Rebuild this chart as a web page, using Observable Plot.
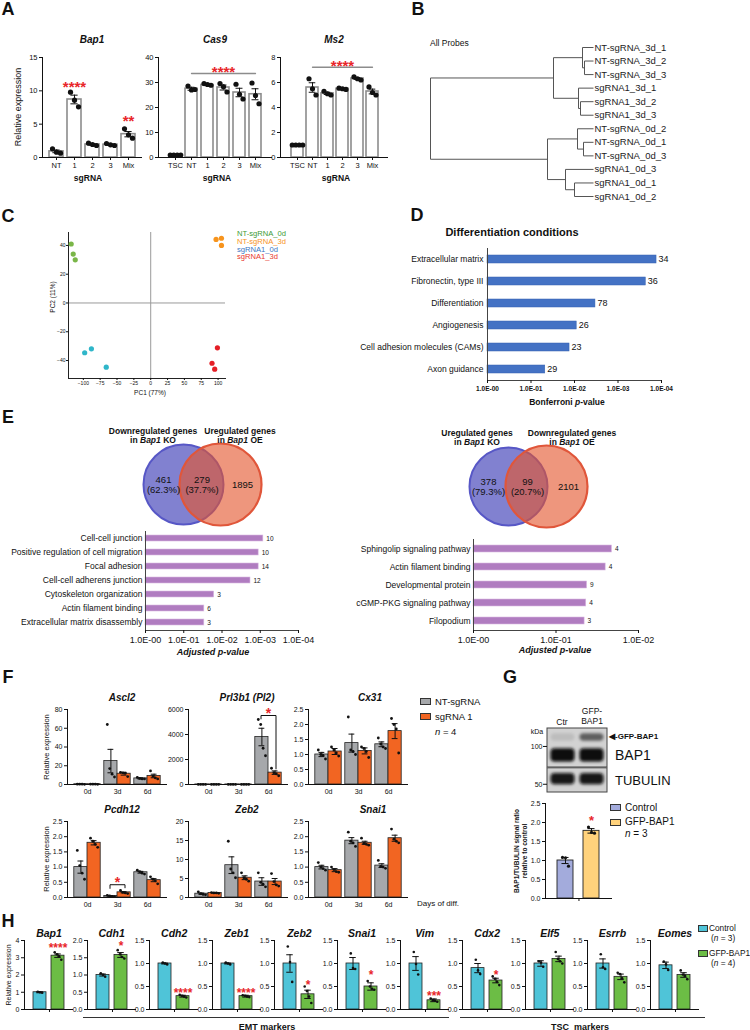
<!DOCTYPE html>
<html><head><meta charset="utf-8">
<script src="https://cdn.jsdelivr.net/npm/d3@7"></script>
<script src="https://cdn.jsdelivr.net/npm/@observablehq/plot@0.6"></script>
<style>
html,body{margin:0;padding:0;background:#fff;}
#root{position:relative;width:750px;height:1030px;overflow:hidden;font-family:"Liberation Sans",Arial,Helvetica,sans-serif;color:#111;background:#fff;}
.t{position:absolute;white-space:nowrap;line-height:1;}
#root svg{overflow:visible;}
</style></head><body><div id="root"></div>
<script>
// ================= DATA =================
// Panel A
const aCatsBap1 = ["NT","1","2","3","Mix"];
const aCatsTSC = ["TSC","NT","1","2","3","Mix"];
const bap1Mean = [0.92, 8.7, 1.95, 1.92, 3.5];
const bap1Sem = [0.2, 0.65, 0.1, 0.1, 0.4];
const bap1Dots = [[1.3,0.8,0.65],[9.8,8.6,7.6],[2.15,1.95,1.8],[2.1,1.9,1.8],[4.3,3.4,2.9]];
const bap1Stars = [{cat:"1", y:10.6, label:"****"}, {cat:"Mix", y:5.4, label:"**"}];
const cas9Mean = [1.0, 27.5, 29.0, 28.0, 26.0, 25.3];
const cas9Sem = [0.05, 0.6, 0.25, 1.0, 1.7, 2.2];
const cas9Dots = [[1,1,1,1],[28.6,27.0,27.2],[29.6,29.2,28.9],[29.6,28.3,26.2],[29.3,25.3,23.4],[29.8,24.8,21.5]];
const cas9Sig = {line:33.6, label:"****"};
const ms2Mean = [1.0, 5.6, 5.13, 5.5, 6.32, 5.28];
const ms2Sem = [0.02, 0.38, 0.09, 0.03, 0.07, 0.19];
const ms2Dots = [[1,1,1,1],[6.3,5.5,5.0],[5.3,5.1,5.0],[5.55,5.5,5.45],[6.45,6.3,6.2],[5.65,5.2,5.0]];
const ms2Sig = {line:7.22, label:"****"};

// Panel B (dendrogram: leaves + merges [childA, childB, height])
const dendroLeaves = ["NT-sgRNA_3d_1","NT-sgRNA_3d_2","NT-sgRNA_3d_3","sgRNA1_3d_1","sgRNA1_3d_2","sgRNA1_3d_3","NT-sgRNA_0d_2","NT-sgRNA_0d_1","NT-sgRNA_0d_3","sgRNA1_0d_3","sgRNA1_0d_1","sgRNA1_0d_2"];
const dendroMerges = [[1,2,9],[0,12,11],[4,5,13],[3,14,15],[13,15,40],[7,8,10],[6,17,16],[10,11,19],[9,19,28],[18,20,46],[16,21,163]];

// Panel C (PCA)
const pcaGroups = ["NT-sgRNA_0d","NT-sgRNA_3d","sgRNA1_0d","sgRNA1_3d"];
const pcaPC1 = [[-118,-115,-112],[97,105,105],[-98,-88,-66],[99,91,95]];
const pcaPC2 = [[41,34,30],[44.2,45,40],[-34.6,-31.9,-44.6],[-31.2,-41.9,-46]];
const pcaDotColors = ["#7ab648","#f7941d","#2fb6c9","#e41e26"];
const pcaTextColors = ["#3d9b35","#f7941d","#3b78c4","#e8382d"];

// Panel D
const dTerms = ["Extracellular matrix","Fibronectin, type III","Differentiation","Angiogenesis","Cell adhesion molecules (CAMs)","Axon guidance"];
const dPvals = [1.3e-4, 2.3e-4, 3.3e-3, 8.9e-3, 1.3e-2, 4.7e-2];
const dCounts = [34,36,78,26,23,29];

// Panel E
const vennLeftCounts = [461, 279, 1895];
const vennLeftPct = ["62.3%","37.7%"];
const vennRightCounts = [378, 99, 2101];
const vennRightPct = ["79.3%","20.7%"];
const eLeftTerms = ["Cell-cell junction","Positive regulation of cell migration","Focal adhesion","Cell-cell adherens junction","Cytoskeleton organization","Actin filament binding","Extracellular matrix disassembly"];
const eLeftP = [8.3e-4, 1.1e-3, 1.1e-3, 1.8e-3, 1.6e-2, 2.9e-2, 2.9e-2];
const eLeftCounts = [10,10,14,12,3,6,3];
const eRightTerms = ["Sphingolip signaling pathway","Actin filament binding","Developmental protein","cGMP-PKG signaling pathway","Filopodium"];
const eRightP = [2.1e-2, 2.5e-2, 4.2e-2, 4.3e-2, 4.5e-2];
const eRightCounts = [4,4,9,4,3];

// Panel F (per day 0d,3d,6d ; NT-sgRNA vs sgRNA 1)
const fDays = ["0d","3d","6d"];
const ascl2NT = [0.3, 25, 6.5], ascl2NTsem = [0.05, 12.5, 0.6], ascl2NTdots = [[0.4,0.3,0.3,0.2],[64,17,11,8],[7.5,6.5,6,6]];
const ascl2SG = [0.3, 11.5, 9.1], ascl2SGsem = [0.05, 1.5, 1.9], ascl2SGdots = [[0.4,0.3,0.3,0.2],[13,12.5,12,8.5],[14.5,9,7,6]];
const prlNT = [5, 5, 3800], prlNTsem = [1, 1, 700], prlNTdots = [[5,5,5,5],[5,5,5,5],[5200,4800,2900,2300]];
const prlSG = [5, 5, 950], prlSGsem = [1, 1, 140], prlSGdots = [[5,5,5,5],[5,5,5,5],[1300,950,850,700]];
const prlBracket = [5250, 5520, 5520, 1250], prlStar = 5680;
const cx31NT = [1.0, 1.38, 1.34], cx31NTsem = [0.07, 0.3, 0.08], cx31NTdots = [[1.15,1.0,0.97,0.85],[2.25,1.15,1.1,1.0],[1.55,1.35,1.25,1.2]];
const cx31SG = [1.1, 1.12, 1.78], cx31SGsem = [0.1, 0.1, 0.25], cx31SGdots = [[1.25,1.15,1.05,0.95],[1.25,1.2,1.1,0.9],[2.2,2.0,1.85,1.05]];
const pcdhNT = [1.0, 0.05, 0.83], pcdhNTsem = [0.2, 0.01, 0.03], pcdhNTdots = [[1.55,1.05,0.8,0.6],[0.07,0.05,0.04,0.03],[0.9,0.85,0.8,0.77]];
const pcdhSG = [1.8, 0.17, 0.57], pcdhSGsem = [0.07, 0.02, 0.05], pcdhSGdots = [[1.95,1.85,1.75,1.65],[0.23,0.17,0.15,0.13],[0.68,0.6,0.55,0.45]];
const pcdhBracket = [0.3, 0.42, 0.42, 0.32], pcdhStar = 0.5;
const zeb2NT = [1.0, 8.5, 4.2], zeb2NTsem = [0.18, 2.2, 1.0], zeb2NTdots = [[1.5,1.0,0.8,0.7],[14.8,7.5,6.5,5.2],[6.5,4,3.5,2.8]];
const zeb2SG = [1.2, 5.2, 4.2], zeb2SGsem = [0.05, 0.5, 0.8], zeb2SGdots = [[1.3,1.2,1.2,1.1],[6.5,5.2,4.8,4.3],[6.3,4.2,3.3,3.0]];
const snaiNT = [1.0, 1.87, 1.05], snaiNTsem = [0.06, 0.1, 0.06], snaiNTdots = [[1.15,1.0,0.95,0.9],[2.15,1.85,1.8,1.68],[1.22,1.02,1.0,0.96]];
const snaiSG = [0.9, 1.8, 1.95], snaiSGsem = [0.05, 0.05, 0.1], snaiSGdots = [[1.0,0.92,0.85,0.83],[1.95,1.78,1.75,1.72],[2.25,1.92,1.85,1.8]];

// Panel G
const gCats = ["Control","GFP-BAP1"];
const gMean = [1.0, 1.78], gSem = [0.08, 0.06];
const gDots = [[1.08,1.07,0.85],[1.88,1.74,1.72]];
const gStarY = 2.05;
const blotLanes = ["Ctr","GFP-BAP1"];
const blotPanels = [{top:139, bottom:68}, {top:67, bottom:43}];
const blotBands = [
  {lane:"Ctr", protein:"GFP-BAP1", kDa:118, intensity:0.10},
  {lane:"GFP-BAP1", protein:"GFP-BAP1", kDa:118, intensity:0.55},
  {lane:"Ctr", protein:"BAP1", kDa:85, intensity:1},
  {lane:"GFP-BAP1", protein:"BAP1", kDa:85, intensity:1},
  {lane:"Ctr", protein:"TUBULIN", kDa:55, intensity:0.95},
  {lane:"GFP-BAP1", protein:"TUBULIN", kDa:55, intensity:0.95}];
const blotMarkers = [100, 50];

// Panel H
const hGenes = ["Bap1","Cdh1","Cdh2","Zeb1","Zeb2","Snai1","Vim","Cdx2","Elf5","Esrrb","Eomes"];
const hCats = ["Control","GFP-BAP1"];
const hMax = [4, 2, 1.5, 1.5, 1.5, 1.5, 1.5, 1.5, 1.5, 1.5, 1.5];
const hCtrlMean = [1.0, 1.0, 1.0, 1.0, 1.0, 1.0, 1.0, 0.9, 1.0, 1.0, 0.96];
const hCtrlSem = [0.03, 0.03, 0.01, 0.01, 0.19, 0.13, 0.15, 0.1, 0.06, 0.1, 0.07];
const hGfpMean = [3.12, 1.58, 0.29, 0.29, 0.33, 0.5, 0.2, 0.63, 1.1, 0.71, 0.75];
const hGfpSem = [0.1, 0.07, 0.02, 0.02, 0.09, 0.08, 0.03, 0.05, 0.06, 0.06, 0.05];
const hCtrlDots = [[1.03,1.0,0.97],[1.05,1.0,0.95],[1.02,1.0,0.98],[1.02,1.0,0.98],[1.37,1.03,0.6],[1.22,0.9,0.88],[1.25,0.99,0.76],[1.08,0.85,0.77],[1.05,1.02,0.93],[1.2,0.92,0.88],[1.04,0.98,0.86]];
const hGfpDots = [[3.32,3.2,3.08,2.88],[1.72,1.6,1.52,1.48],[0.32,0.3,0.28,0.26],[0.31,0.3,0.28,0.27],[0.5,0.4,0.28,0.14],[0.62,0.5,0.45,0.43],[0.24,0.2,0.19,0.17],[0.72,0.67,0.6,0.53],[1.25,1.1,1.05,1.0],[0.8,0.77,0.68,0.59],[0.85,0.76,0.73,0.66]];
const hStars = ["****","*","****","****","*","*","***","*","","",""];
const hStarY = [3.54, 1.83, 0.36, 0.36, 0.53, 0.75, 0.28, 0.75, 0, 0, 0];

// ================= HELPERS =================
const root = document.getElementById("root");
const FONT = '"Liberation Sans", Arial, Helvetica, sans-serif';
const GRAY = "#a6a8ab", ORANGE = "#f26522", CYAN = "#4fc4d8", GREEN = "#6cbd45", LAV = "#a3abdc", YEL = "#ffd27c", RED = "#e8262a";

function put(el, left, top) {
  el.style.position = "absolute"; el.style.left = left + "px"; el.style.top = top + "px";
  root.appendChild(el); return el;
}
function txt(html, x, y, o = {}) {
  const d = document.createElement("div");
  d.className = "t"; d.innerHTML = html;
  d.style.fontSize = (o.size || 9) + "px";
  if (o.bold) d.style.fontWeight = "bold";
  if (o.italic) d.style.fontStyle = "italic";
  if (o.color) d.style.color = o.color;
  if (o.lh) d.style.lineHeight = o.lh;
  if (o.align) d.style.textAlign = o.align;
  const ax = o.anchor === "start" ? "0" : o.anchor === "end" ? "-100%" : "-50%";
  d.style.transform = `translate(${o.rotate ? "-50%" : ax},-50%)` + (o.rotate ? ` rotate(${o.rotate}deg)` : "");
  return put(d, x, y);
}
function swatch(x, y, w, h, color) {
  const d = document.createElement("div");
  d.style.width = w + "px"; d.style.height = h + "px"; d.style.background = color;
  d.style.border = "1px solid #333"; d.style.boxSizing = "border-box";
  return put(d, x, y);
}
function hline(x, y, w) {
  const d = document.createElement("div");
  d.style.width = w + "px"; d.style.height = "0px"; d.style.borderTop = "1px solid #333";
  return put(d, x, y);
}
function plotAt(opts, left, top) {
  const svg = Plot.plot(Object.assign({}, opts, {style: Object.assign({background: "transparent", fontFamily: FONT, fontSize: "8px", overflow: "visible", color: "#111"}, opts.style || {})}));
  put(svg, left, top);
  return svg;
}
const f1 = d3.format(".1f");
const fInt = d => String(d);
const fmtE = d => "1.0E-" + String(Math.round(-Math.log10(d))).padStart(2, "0");

function dotMarks(pts, spread, r, xKey, baseDx = 0) {
  const groups = d3.groups(pts, d => d.j + "|" + d.n);
  return groups.map(([k, g]) => {
    const [j, nn] = k.split("|").map(Number);
    return Plot.dot(g, {x: xKey, y: "v", r, fill: "#111", dx: baseDx + (j - (nn - 1) / 2) * spread});
  });
}

function simpleBars(c) {
  const n = c.cats.length, W = c.x1 - c.x0;
  const ML = 32, MR = 8, MT = 16, MB = 24;
  const s = W / (n - c.pad + 2 * c.po), bw = s * (1 - c.pad);
  const cap = c.cap ?? 7, ci = (bw - cap) / 2;
  const rows = c.cats.map((cat, i) => ({cat, mean: c.means[i], sem: c.sems[i], fill: c.fills ? c.fills[i] : c.fill}));
  const pts = c.cats.flatMap((cat, i) => c.dots[i].map((v, j, a) => ({cat, v, j, n: a.length})));
  const marks = [
    Plot.barY(rows, {x: "cat", y: "mean", fill: "fill", stroke: c.stroke, strokeWidth: c.strokeWidth ?? 1}),
    Plot.ruleX(rows, {x: "cat", y1: d => d.mean - d.sem, y2: d => d.mean + d.sem, stroke: "#111", strokeWidth: 1}),
    Plot.tickY(rows, {x: "cat", y: d => d.mean + d.sem, insetLeft: ci, insetRight: ci, stroke: "#111", strokeWidth: 1}),
    Plot.tickY(rows, {x: "cat", y: d => d.mean - d.sem, insetLeft: ci, insetRight: ci, stroke: "#111", strokeWidth: 1}),
    ...dotMarks(pts, c.spread ?? 3, c.r ?? 2, "cat"),
    Plot.ruleY([0], {stroke: "#111"}),
    Plot.frame({anchor: "left", stroke: "#111"}),
    Plot.axisY({ticks: c.ticks, tickFormat: c.fmt, tickSize: 3, tickPadding: 2, fontSize: c.tickFont ?? 7.5, label: null}),
    c.xLabels
      ? Plot.axisX({tickSize: 3, tickPadding: 2, fontSize: c.xFont ?? 7.5, label: null})
      : Plot.axisX({ticks: [c.cats[0]], tickFormat: () => "", tickSize: 3, dx: s / 2, label: null}),
    ...(c.extra ? c.extra(s) : [])
  ];
  return plotAt({width: W + ML + MR, height: c.yBot - c.yTop + MT + MB, marginLeft: ML, marginRight: MR, marginTop: MT, marginBottom: MB,
    x: {type: "band", domain: c.cats, paddingInner: c.pad, paddingOuter: c.po},
    y: {domain: [0, c.ymax]}, color: {type: "identity"}, marks}, c.x0 - ML, c.yTop - MT);
}

function groupedBars(c) {
  const W = 100, ML = 46, MR = 6, MT = 14, MB = 20;
  const keys = fDays.flatMap(d => [d + " NT", d + " SG"]);
  const po = 0.3, s = W / (6 + 2 * po), g = 1.8, cap = 6;
  const rows = [], pts = [];
  fDays.forEach((d, i) => {
    rows.push({key: d + " NT", grp: "NT", mean: c.nt[i], sem: c.ntSem[i]});
    rows.push({key: d + " SG", grp: "SG", mean: c.sg[i], sem: c.sgSem[i]});
    c.ntDots[i].forEach((v, j, a) => pts.push({key: d + " NT", grp: "NT", v, j, n: a.length}));
    c.sgDots[i].forEach((v, j, a) => pts.push({key: d + " SG", grp: "SG", v, j, n: a.length}));
  });
  const marks = [];
  for (const grp of ["NT", "SG"]) {
    const R = rows.filter(r => r.grp === grp);
    const isNT = grp === "NT";
    const off = isNT ? g / 2 : -g / 2;
    marks.push(Plot.barY(R, {x: "key", y: "mean", fill: isNT ? GRAY : ORANGE, stroke: "#222", strokeWidth: 0.8, insetLeft: isNT ? g : 0, insetRight: isNT ? 0 : g}));
    marks.push(Plot.ruleX(R, {x: "key", y1: d => d.mean - d.sem, y2: d => d.mean + d.sem, dx: off, stroke: "#111"}));
    const il = s / 2 + off - cap / 2, ir = s / 2 - off - cap / 2;
    marks.push(Plot.tickY(R, {x: "key", y: d => d.mean + d.sem, insetLeft: il, insetRight: ir, stroke: "#111"}));
    marks.push(Plot.tickY(R, {x: "key", y: d => d.mean - d.sem, insetLeft: il, insetRight: ir, stroke: "#111"}));
    marks.push(...dotMarks(pts.filter(p => p.grp === grp), 2.4, 1.4, "key", off));
  }
  marks.push(
    Plot.ruleY([0], {stroke: "#111"}),
    Plot.frame({anchor: "left", stroke: "#111"}),
    Plot.axisY({ticks: c.ticks, tickFormat: c.fmt, tickSize: 3, tickPadding: 2, fontSize: 7, label: null}),
    Plot.text(fDays, {x: d => d + " NT", text: d => d, frameAnchor: "bottom", dy: 9, dx: s / 2, fontSize: 7}),
    ...(c.extra ? c.extra(s) : [])
  );
  return plotAt({width: W + ML + MR, height: c.yBot - c.yTop + MT + MB, marginLeft: ML, marginRight: MR, marginTop: MT, marginBottom: MB,
    x: {type: "band", domain: keys, paddingInner: 0, paddingOuter: po, axis: null},
    y: {domain: [0, c.ymax]}, marks}, c.x0 - ML, c.yTop - MT);
}

// ================= PANEL A =================
txt("A", 8, 9, {size: 18, bold: true});
simpleBars({cats: aCatsBap1, means: bap1Mean, sems: bap1Sem, dots: bap1Dots, x0: 42, x1: 142, yTop: 57, yBot: 157, ymax: 15, ticks: [0,5,10,15], fmt: fInt,
  fill: "#fff", stroke: "#8c8c8c", strokeWidth: 1.6, pad: 0.22, po: 0.25, cap: 8, r: 2.6, spread: 4, xLabels: true,
  extra: () => [Plot.text(bap1Stars, {x: "cat", y: "y", text: "label", fill: RED, fontSize: 15, fontWeight: "bold"})]});
simpleBars({cats: aCatsTSC, means: cas9Mean, sems: cas9Sem, dots: cas9Dots, x0: 158, x1: 272, yTop: 57, yBot: 157, ymax: 40, ticks: [0,10,20,30,40], fmt: fInt,
  fill: "#fff", stroke: "#8c8c8c", strokeWidth: 1.6, pad: 0.28, po: 0.55, cap: 7, r: 2.6, spread: 3.5, xLabels: true,
  extra: () => [Plot.line([{cat: "NT", v: cas9Sig.line}, {cat: "Mix", v: cas9Sig.line}], {x: "cat", y: "v", stroke: "#8c8c8c", strokeWidth: 1.3}),
                Plot.text([{cat: "2", v: cas9Sig.line}], {x: "cat", y: "v", text: () => cas9Sig.label, fill: RED, fontSize: 15, fontWeight: "bold", dy: -1})]});
simpleBars({cats: aCatsTSC, means: ms2Mean, sems: ms2Sem, dots: ms2Dots, x0: 280, x1: 388, yTop: 57, yBot: 157, ymax: 8, ticks: [0,2,4,6,8], fmt: fInt,
  fill: "#fff", stroke: "#8c8c8c", strokeWidth: 1.6, pad: 0.22, po: 0.5, cap: 7, r: 2.6, spread: 3.5, xLabels: true,
  extra: () => [Plot.line([{cat: "NT", v: ms2Sig.line}, {cat: "Mix", v: ms2Sig.line}], {x: "cat", y: "v", stroke: "#8c8c8c", strokeWidth: 1.3}),
                Plot.text([{cat: "2", v: ms2Sig.line}], {x: "cat", y: "v", text: () => ms2Sig.label, fill: RED, fontSize: 15, fontWeight: "bold", dy: -1})]});
txt("Bap1", 92, 40, {size: 10, bold: true, italic: true});
txt("Cas9", 215, 40, {size: 10, bold: true, italic: true});
txt("Ms2", 334, 40, {size: 10, bold: true, italic: true});
txt("Relative expression", 18, 107, {size: 9, rotate: -90});
txt("sgRNA", 88, 178, {size: 8.5, bold: true});
txt("sgRNA", 217, 178, {size: 8.5, bold: true});
txt("sgRNA", 336, 178, {size: 8.5, bold: true});

// ================= PANEL B =================
txt("B", 418, 9, {size: 18, bold: true});
txt("All Probes", 430, 43, {size: 8.5, anchor: "start"});
{
  const nodes = dendroLeaves.map((name, i) => ({y: i, h: 0}));
  const segs = [];
  for (const [a, b, h] of dendroMerges) {
    const A = nodes[a], B = nodes[b];
    segs.push({x1: A.h, y1: A.y, x2: h, y2: A.y});
    segs.push({x1: B.h, y1: B.y, x2: h, y2: B.y});
    segs.push({x1: h, y1: A.y, x2: h, y2: B.y});
    nodes.push({y: (A.y + B.y) / 2, h});
  }
  const leafRows = dendroLeaves.map((name, i) => ({name, i}));
  plotAt({width: 330, height: 170, marginLeft: 10, marginRight: 157, marginTop: 12, marginBottom: 9,
    x: {domain: [163, 0], axis: null}, y: {domain: [11, 0], axis: null},
    marks: [
      Plot.link(segs, {x1: "x1", y1: "y1", x2: "x2", y2: "y2", stroke: "#555", strokeWidth: 1}),
      Plot.text(leafRows, {x: 0, y: "i", text: "name", textAnchor: "start", dx: 1, fontSize: 9.5, fill: "#222"})
    ]}, 420, 35);
}

// ================= PANEL C =================
txt("C", 8, 216, {size: 18, bold: true});
{
  const rows = pcaGroups.flatMap((g, gi) => pcaPC1[gi].map((x, k) => ({g, x, y: pcaPC2[gi][k], c: pcaDotColors[gi]})));
  plotAt({width: 200, height: 175, marginLeft: 28, marginRight: 15, marginTop: 7, marginBottom: 22,
    x: {domain: [-122, 111]}, y: {domain: [-52.5, 49]}, color: {type: "identity"},
    marks: [
      Plot.ruleX([0], {stroke: "#9a9a9a"}),
      Plot.ruleY([0], {stroke: "#9a9a9a"}),
      Plot.frame({anchor: "left", stroke: "#222"}),
      Plot.frame({anchor: "bottom", stroke: "#222"}),
      Plot.axisX({ticks: [-100,-75,-50,-25,0,25,50,75,100], tickSize: 2, tickPadding: 1, fontSize: 5, label: null}),
      Plot.axisY({ticks: [-40,-20,0,20,40], tickSize: 2, tickPadding: 1, fontSize: 5, label: null}),
      Plot.dot(rows, {x: "x", y: "y", fill: "c", r: 2.6})
    ]}, 40, 225);
  pcaGroups.forEach((g, i) => txt(g, 237, 234 + i * 7.8, {size: 7.6, anchor: "start", color: pcaTextColors[i]}));
  txt("PC1 (77%)", 150, 393, {size: 6.5});
  txt("PC2 (11%)", 53, 297, {size: 6.5, rotate: -90});
}

// ================= PANEL D =================
txt("D", 417, 215, {size: 18, bold: true});
txt("Differentiation conditions", 512, 232, {size: 11, bold: true});
{
  const rows = dTerms.map((term, i) => ({term, p: dPvals[i], n: dCounts[i]}));
  plotAt({width: 370, height: 170, marginLeft: 107, marginRight: 89, marginTop: 8, marginBottom: 30,
    x: {type: "log", domain: [1, 1e-4]}, y: {type: "band", domain: dTerms, paddingInner: 0.64, paddingOuter: 0.32},
    marks: [
      Plot.barX(rows, {y: "term", x1: 1, x2: "p", fill: "#4472c4", stroke: "#3562b0", strokeWidth: 0.5}),
      Plot.text(rows, {y: "term", x: "p", text: d => String(d.n), textAnchor: "start", dx: 2, fontSize: 9}),
      Plot.frame({anchor: "left", stroke: "#444"}),
      Plot.frame({anchor: "bottom", stroke: "#444"}),
      Plot.axisX({ticks: [1,1e-1,1e-2,1e-3,1e-4], tickFormat: fmtE, tickSize: 3, tickPadding: 3, fontSize: 6.5, fontWeight: "bold", label: null}),
      Plot.axisY({tickSize: 0, tickPadding: 4, fontSize: 8.5, label: null})
    ]}, 380, 240);
  txt("Bonferroni <i>p</i>-value", 567, 402, {size: 8.5, bold: true});
}

// ================= PANEL E =================
txt("E", 8, 417, {size: 18, bold: true});
function venn(left, top, cxA, cxB, rA, rB, counts, pcts) {
  const W = 140, H = 100;
  const sets = [{pos: 0}, {pos: 1}];
  const labels = [
    {pos: 0, dx: -20, t: counts[0] + "\n(" + pcts[0] + ")"},
    {pos: 0.5, dx: 0, t: counts[1] + "\n(" + pcts[1] + ")"},
    {pos: 1, dx: 22, t: String(counts[2])}];
  plotAt({width: W, height: H, marginLeft: cxA - left, marginRight: left + W - cxB, marginTop: 0, marginBottom: 0,
    x: {domain: [0, 1], axis: null},
    marks: [
      Plot.dot([sets[0]], {x: "pos", r: rA, fill: "rgb(70,70,185)", fillOpacity: 0.68, stroke: "#5757c6", strokeWidth: 2}),
      Plot.dot([sets[1]], {x: "pos", r: rB, fill: "rgb(228,85,45)", fillOpacity: 0.62, stroke: "#e0563a", strokeWidth: 2.2}),
      ...labels.map(l => Plot.text([l], {x: "pos", text: "t", dx: l.dx, fontSize: 9.5, lineHeight: 1.15, fill: "#111"}))
    ]}, left, top);
}
venn(130, 434, 183, 220, 40, 41, vennLeftCounts, vennLeftPct);
venn(455, 436, 508, 546, 39, 41, vennRightCounts, vennRightPct);
txt("Downregulated genes<br>in <i>Bap1</i> KO", 153, 435, {size: 8.5, bold: true, align: "center"});
txt("Uregulated genes<br>in <i>Bap1</i> OE", 240, 435, {size: 8.5, bold: true, align: "center"});
txt("Uregulated genes<br>in <i>Bap1</i> KO", 477, 437, {size: 8.5, bold: true, align: "center"});
txt("Downregulated genes<br>in <i>Bap1</i> OE", 572, 437, {size: 8.5, bold: true, align: "center"});
{
  const rowsL = eLeftTerms.map((term, i) => ({term, p: eLeftP[i], n: eLeftCounts[i]}));
  plotAt({width: 320, height: 135, marginLeft: 145, marginRight: 22, marginTop: 3, marginBottom: 33,
    x: {type: "log", domain: [1, 1e-4]}, y: {type: "band", domain: eLeftTerms, paddingInner: 0.57, paddingOuter: 0.29},
    marks: [
      Plot.barX(rowsL, {y: "term", x1: 1, x2: "p", fill: "#b07cc0", stroke: "#d9b8e2", strokeWidth: 0.6}),
      Plot.text(rowsL, {y: "term", x: "p", text: d => String(d.n), textAnchor: "start", dx: 3, fontSize: 6.5}),
      Plot.frame({anchor: "left", stroke: "#444"}),
      Plot.frame({anchor: "bottom", stroke: "#444"}),
      Plot.axisX({ticks: [1,1e-1,1e-2,1e-3,1e-4], tickFormat: fmtE, tickSize: 3, tickPadding: 3, fontSize: 9, label: null}),
      Plot.axisY({tickSize: 0, tickPadding: 3, fontSize: 8.5, label: null})
    ]}, 0, 528);
  txt("Adjusted p-value", 213, 652, {size: 9, bold: true, italic: true});
  const rowsR = eRightTerms.map((term, i) => ({term, p: eRightP[i], n: eRightCounts[i]}));
  plotAt({width: 420, height: 125, marginLeft: 143, marginRight: 112, marginTop: 1, marginBottom: 33,
    x: {type: "log", domain: [1, 1e-2]}, y: {type: "band", domain: eRightTerms, paddingInner: 0.615, paddingOuter: 0.31},
    marks: [
      Plot.barX(rowsR, {y: "term", x1: 1, x2: "p", fill: "#b07cc0", stroke: "#d9b8e2", strokeWidth: 0.6}),
      Plot.text(rowsR, {y: "term", x: "p", text: d => String(d.n), textAnchor: "start", dx: 3, fontSize: 6.5}),
      Plot.frame({anchor: "left", stroke: "#444"}),
      Plot.frame({anchor: "bottom", stroke: "#444"}),
      Plot.axisX({ticks: [1,1e-1,1e-2], tickFormat: fmtE, tickSize: 3, tickPadding: 3, fontSize: 9, label: null}),
      Plot.axisY({tickSize: 0, tickPadding: 3, fontSize: 8.5, label: null})
    ]}, 330, 538);
  txt("Adjusted p-value", 555, 650, {size: 9, bold: true, italic: true});
}

// ================= PANEL F =================
txt("F", 8, 677, {size: 18, bold: true});
groupedBars({x0: 67, yTop: 709, yBot: 784, ymax: 80, ticks: [0,20,40,60,80], fmt: fInt,
  nt: ascl2NT, ntSem: ascl2NTsem, ntDots: ascl2NTdots, sg: ascl2SG, sgSem: ascl2SGsem, sgDots: ascl2SGdots});
groupedBars({x0: 188, yTop: 709, yBot: 784, ymax: 6000, ticks: [0,2000,4000,6000], fmt: fInt,
  nt: prlNT, ntSem: prlNTsem, ntDots: prlNTdots, sg: prlSG, sgSem: prlSGsem, sgDots: prlSGdots,
  extra: s => [
    Plot.line([{k: "6d NT", v: prlBracket[0]}, {k: "6d NT", v: prlBracket[1]}, {k: "6d SG", v: prlBracket[2]}, {k: "6d SG", v: prlBracket[3]}], {x: "k", y: "v", stroke: "#111", strokeWidth: 1}),
    Plot.text([{k: "6d NT", v: prlStar}], {x: "k", y: "v", text: () => "*", dx: s / 2, fill: RED, fontSize: 14, fontWeight: "bold"})]});
groupedBars({x0: 308, yTop: 709, yBot: 784, ymax: 2.5, ticks: [0,0.5,1,1.5,2,2.5], fmt: f1,
  nt: cx31NT, ntSem: cx31NTsem, ntDots: cx31NTdots, sg: cx31SG, sgSem: cx31SGsem, sgDots: cx31SGdots});
groupedBars({x0: 67, yTop: 821, yBot: 897, ymax: 2.5, ticks: [0,0.5,1,1.5,2,2.5], fmt: f1,
  nt: pcdhNT, ntSem: pcdhNTsem, ntDots: pcdhNTdots, sg: pcdhSG, sgSem: pcdhSGsem, sgDots: pcdhSGdots,
  extra: s => [
    Plot.line([{k: "3d NT", v: pcdhBracket[0]}, {k: "3d NT", v: pcdhBracket[1]}, {k: "3d SG", v: pcdhBracket[2]}, {k: "3d SG", v: pcdhBracket[3]}], {x: "k", y: "v", stroke: "#111", strokeWidth: 1}),
    Plot.text([{k: "3d NT", v: pcdhStar}], {x: "k", y: "v", text: () => "*", dx: s / 2, fill: RED, fontSize: 14, fontWeight: "bold"})]});
groupedBars({x0: 188, yTop: 821, yBot: 897, ymax: 20, ticks: [0,5,10,15,20], fmt: fInt,
  nt: zeb2NT, ntSem: zeb2NTsem, ntDots: zeb2NTdots, sg: zeb2SG, sgSem: zeb2SGsem, sgDots: zeb2SGdots});
groupedBars({x0: 308, yTop: 821, yBot: 897, ymax: 2.5, ticks: [0,0.5,1,1.5,2,2.5], fmt: f1,
  nt: snaiNT, ntSem: snaiNTsem, ntDots: snaiNTdots, sg: snaiSG, sgSem: snaiSGsem, sgDots: snaiSGdots});
txt("Ascl2", 122, 698, {size: 10, bold: true, italic: true});
txt("Prl3b1 (Pl2)", 247, 698, {size: 10, bold: true, italic: true});
txt("Cx31", 370, 698, {size: 10, bold: true, italic: true});
txt("Pcdh12", 122, 810, {size: 10, bold: true, italic: true});
txt("Zeb2", 247, 810, {size: 10, bold: true, italic: true});
txt("Snai1", 373, 810, {size: 10, bold: true, italic: true});
txt("Relative expression", 47, 747, {size: 7.5, rotate: -90});
txt("Relative expression", 47, 859, {size: 7.5, rotate: -90});
swatch(420, 698, 11, 7, GRAY); txt("NT-sgRNA", 435, 702, {size: 9.5, anchor: "start"});
swatch(420, 713, 11, 7, ORANGE); txt("sgRNA 1", 435, 717, {size: 9.5, anchor: "start"});
txt("<i>n</i> = 4", 435, 732, {size: 9.5, anchor: "start"});
txt("Days of diff.", 417, 904, {size: 8, anchor: "start"});

// ================= PANEL G =================
txt("G", 510, 677, {size: 18, bold: true});
{
  const bandHalf = {"GFP-BAP1": 1.07, "BAP1": 1.13, "TUBULIN": 1.11};
  const blot = plotAt({width: 100, height: 80, marginLeft: 27, marginRight: 13, marginTop: 8, marginBottom: 8,
    x: {type: "band", domain: blotLanes, paddingInner: 0.06, paddingOuter: 0.04, axis: null},
    y: {type: "log", domain: [43, 139]},
    marks: [
      Plot.rect(blotPanels, {y1: "top", y2: "bottom", fill: "#d2d2d2", stroke: "#444", strokeWidth: 1}),
      Plot.barY(blotBands, {x: "lane", y1: d => d.kDa * bandHalf[d.protein], y2: d => d.kDa / bandHalf[d.protein], fill: "#0b0b0b", fillOpacity: "intensity", rx: 4, insetLeft: 1.5, insetRight: 1.5}),
      Plot.axisY({ticks: blotMarkers, tickFormat: fInt, tickSize: 4, tickPadding: 1, fontSize: 7, label: null})
    ]}, 520, 720);
  const sel = d3.select(blot);
  const flt = sel.insert("defs", ":first-child").append("filter").attr("id", "blotblur")
    .attr("x", "-30%").attr("y", "-80%").attr("width", "160%").attr("height", "260%");
  flt.append("feGaussianBlur").attr("stdDeviation", 1.5);
  sel.selectAll('g[aria-label="bar"]').attr("filter", "url(#blotblur)");
}
txt("Ctr", 562, 722, {size: 8.5});
txt("GFP-<br>BAP1", 592, 717, {size: 8.5, align: "center", lh: 1.15});
txt("kDa", 537, 731, {size: 7});
txt("&#9664;-GFP-BAP1", 609, 737, {size: 8, bold: true, anchor: "start"});
txt("BAP1", 615, 755, {size: 14, anchor: "start"});
txt("TUBULIN", 615, 780, {size: 13, anchor: "start"});
simpleBars({cats: gCats, means: gMean, sems: gSem, dots: gDots, x0: 545, x1: 612, yTop: 803, yBot: 898, ymax: 2.5, ticks: [0,0.5,1,1.5,2,2.5], fmt: f1,
  fills: [LAV, YEL], stroke: "#222", strokeWidth: 0.9, pad: 0.37, po: 0.43, cap: 8, r: 1.6, spread: 3, xLabels: false, tickFont: 7,
  extra: () => [Plot.text([{cat: "GFP-BAP1", v: gStarY}], {x: "cat", y: "v", text: () => "*", fill: RED, fontSize: 13, fontWeight: "bold"})]});
txt("BAP1/TUBULIN signal ratio<br>relative to control", 521, 851, {size: 6.5, bold: true, rotate: -90, align: "center", lh: 1.2});
swatch(610, 804, 11, 7, LAV); txt("Control", 625, 808, {size: 10, anchor: "start"});
swatch(610, 819, 11, 7, YEL); txt("GFP-BAP1", 625, 822, {size: 10, anchor: "start"});
txt("<i>n</i> = 3", 625, 834, {size: 10, anchor: "start"});

// ================= PANEL H =================
txt("H", 8, 921, {size: 18, bold: true});
hGenes.forEach((gene, i) => {
  const x0 = 24 + 62.6 * i;
  const ticks = hMax[i] === 4 ? [0,1,2,3,4] : hMax[i] === 2 ? [0,0.5,1,1.5,2] : [0,0.5,1,1.5];
  simpleBars({cats: hCats, means: [hCtrlMean[i], hGfpMean[i]], sems: [hCtrlSem[i], hGfpSem[i]], dots: [hCtrlDots[i], hGfpDots[i]],
    x0, x1: x0 + 49, yTop: 940, yBot: 1009, ymax: hMax[i], ticks, fmt: hMax[i] === 4 ? fInt : f1,
    fills: [CYAN, GREEN], stroke: "#222", strokeWidth: 0.8, pad: 0.29, po: 0.435, cap: 7, r: 1.3, spread: 2.2, xLabels: false, tickFont: 7,
    extra: () => hStars[i] ? [Plot.text([{cat: "GFP-BAP1", v: hStarY[i]}], {x: "cat", y: "v", text: () => hStars[i], fill: RED, fontSize: 12, fontWeight: "bold"})] : []});
  txt(gene, x0 + 25, 933, {size: 10.5, bold: true, italic: true});
});
txt("Relative expression", 8, 975, {size: 7, rotate: -90});
hline(83, 1017, 366);
hline(460, 1017, 245);
txt("EMT markers", 267, 1027, {size: 9, bold: true});
txt("TSC&nbsp;&nbsp;markers", 580, 1027, {size: 9, bold: true});
swatch(698, 925, 10, 7, CYAN); txt("Control", 709, 928, {size: 8.3, anchor: "start"});
txt("(<i>n</i> = 3)", 711, 938, {size: 8.3, anchor: "start"});
swatch(698, 950, 10, 7, GREEN); txt("GFP-BAP1", 709, 953, {size: 8.3, anchor: "start"});
txt("(<i>n</i> = 4)", 711, 963, {size: 8.3, anchor: "start"});
</script></body></html>
